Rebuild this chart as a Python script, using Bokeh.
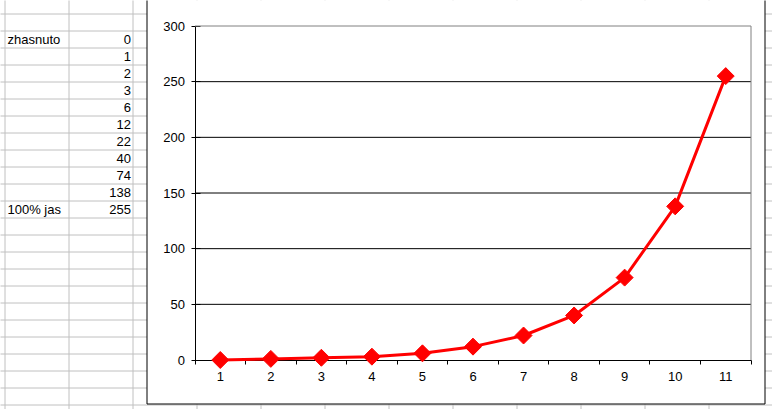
import math
from bokeh.plotting import figure
from bokeh.models import LinearAxis, FixedTicker, Range1d, CustomJSTickFormatter
from bokeh.core.properties import value
from bokeh.embed import file_html
from bokeh.resources import INLINE

# ---- data ----
categories = [1, 2, 3, 4, 5, 6, 7, 8, 9, 10, 11]
values = [0, 1, 2, 3, 6, 12, 22, 40, 74, 138, 255]
y_ticks = [0, 50, 100, 150, 200, 250, 300]
row_labels = ["zhasnuto", "100% jas"]
row_label_rows = [0, 10]

# ---- geometry (screenshot pixel coordinates) ----
MARGIN = 0
WIN_W, WIN_H = 772, 409
W, H = WIN_W - MARGIN, WIN_H - MARGIN
PA_L, PA_R, PA_T, PA_B = 194, 750, 25, 359
n = len(categories)
KX = (PA_R - PA_L) / n
KY = (PA_B - PA_T) / (y_ticks[-1] - y_ticks[0])
x_lo = categories[0] - 0.5
x_hi = categories[-1] + 0.5


def dx(X):
    return x_lo + (X - (PA_L + 0.5)) / KX


def dy(Y):
    return y_ticks[0] + ((PA_B + 0.5) - Y) / KY


FONT = value("Liberation Sans")

p = figure(width=W, height=H, output_backend="svg", toolbar_location=None,
           x_range=Range1d(dx(MARGIN), dx(WIN_W)),
           y_range=Range1d(dy(WIN_H), dy(MARGIN)),
           x_axis_type=None, y_axis_type=None, min_border=0,
           outline_line_color=None, background_fill_color="white",
           border_fill_color="white")

# ---- spreadsheet grid (background) ----
col_px = list(range(4, WIN_W, 64))
row_px = list(range(13, WIN_H, 17))
r = p.segment(x0=[dx(c + 0.5) for c in col_px], x1=[dx(c + 0.5) for c in col_px],
              y0=[dy(-5)] * len(col_px), y1=[dy(WIN_H + 5)] * len(col_px),
              line_color="#C0C0C0", line_width=1)
r.level = "image"
r = p.segment(x0=[dx(-5)] * len(row_px), x1=[dx(WIN_W + 5)] * len(row_px),
              y0=[dy(rr + 0.5) for rr in row_px], y1=[dy(rr + 0.5) for rr in row_px],
              line_color="#C0C0C0", line_width=1)
r.level = "image"

# spreadsheet cell texts (vertically centred in their rows)
r = p.text(x=[dx(130.5)] * len(values), y=[dy(39 + 17 * k) for k in range(len(values))],
           text=[str(v) for v in values], text_align="right", text_baseline="middle",
           text_font=FONT, text_font_size="13px", text_color="black")
r.level = "image"
r = p.text(x=[dx(7)] * len(row_labels), y=[dy(39 + 17 * k) for k in row_label_rows],
           text=row_labels, text_align="left", text_baseline="middle",
           text_font=FONT, text_font_size="13px", text_color="black")
r.level = "image"

# chart object box
r = p.quad(left=dx(146.5), right=dx(764.5), top=dy(-5), bottom=dy(403.5),
           fill_color="white", line_color="black", line_width=1)
r.level = "image"

# ---- axes ----
yax = LinearAxis(fixed_location=x_lo, bounds=(y_ticks[0], y_ticks[-1]),
                 ticker=FixedTicker(ticks=y_ticks, minor_ticks=[]))
yax.major_tick_out = 4
yax.major_tick_in = 5
yax.minor_tick_line_color = None
yax.major_label_standoff = 6
yax.major_label_text_font = "Liberation Sans"
yax.major_label_text_font_size = "13px"
yax.major_label_text_color = "black"
yax.axis_line_color = "black"
yax.major_tick_line_color = "black"
yax.level = "underlay"
p.add_layout(yax, "left")

boundaries = [c - 0.5 for c in categories] + [categories[-1] + 0.5]
xax = LinearAxis(fixed_location=y_ticks[0], bounds=(x_lo, x_hi),
                 ticker=FixedTicker(ticks=boundaries, minor_ticks=[]),
                 formatter=CustomJSTickFormatter(code="return ''"))
xax.major_tick_out = 4
xax.major_tick_in = 0
xax.minor_tick_line_color = None
xax.axis_line_color = "black"
xax.major_tick_line_color = "black"
xax.level = "underlay"
p.add_layout(xax, "below")

xlab = LinearAxis(fixed_location=y_ticks[0],
                  ticker=FixedTicker(ticks=categories, minor_ticks=[]))
xlab.axis_line_color = None
xlab.major_tick_line_color = None
xlab.minor_tick_line_color = None
xlab.major_tick_out = 0
xlab.major_tick_in = 0
xlab.major_label_standoff = 12
xlab.major_label_text_font = "Liberation Sans"
xlab.major_label_text_font_size = "13px"
xlab.major_label_text_color = "black"
xlab.level = "underlay"
p.add_layout(xlab, "below")

# ---- plot area gridlines and border ----
inner = y_ticks[1:-1]
p.segment(x0=[x_lo] * len(inner), x1=[x_hi] * len(inner), y0=inner, y1=inner,
          line_color="black", line_width=1)
p.segment(x0=[x_lo, x_hi], x1=[x_hi, x_hi], y0=[y_ticks[-1], y_ticks[0]],
          y1=[y_ticks[-1], y_ticks[-1]], line_color="#808080", line_width=1)

# ---- data ----
p.line(x=categories, y=values, line_color="#FF0000", line_width=3)
p.scatter(x=categories, y=values, marker="square", angle=math.pi / 4, size=12,
          fill_color="#FF0000", line_color="#FF0000")

open("out.html", "w").write(file_html(p, INLINE))
